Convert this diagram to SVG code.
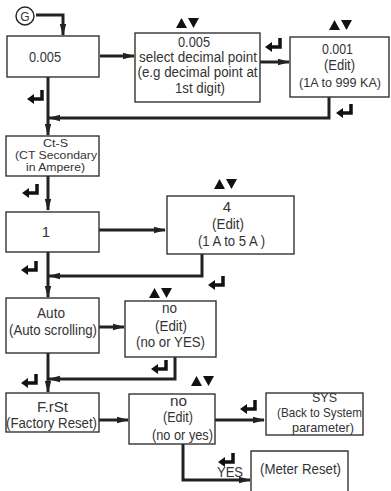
<svg xmlns="http://www.w3.org/2000/svg" width="391" height="491" viewBox="0 0 391 491">
<defs>
<style>
.box{fill:#fff;stroke:#333;stroke-width:1.4}
.t{font-family:"Liberation Sans",Arial,sans-serif;font-size:15px;fill:#333;text-anchor:middle}
.s{font-size:11px}
.m{font-size:13px}
.n{font-size:14px}
.g{font-size:12px}
.ln{fill:none;stroke:#222;stroke-width:3}
.tri{fill:#111}
</style>
<marker id="ah" markerWidth="12" markerHeight="8" refX="11" refY="4" orient="auto" markerUnits="userSpaceOnUse">
<path d="M0,0.8 L12,4 L0,7.2 Z" fill="#222"/>
</marker>
<g id="ent">
<path d="M5,-2 V7 H-4" fill="none" stroke="#111" stroke-width="3.5"/>
<path d="M-10,7 L-3,2 L-3,12 Z" fill="#111"/>
</g>
<g id="av">
<path d="M-11,5 L-5.5,-5 L0,5 Z" class="tri"/>
<path d="M1,-5 L12,-5 L6.5,5 Z" class="tri"/>
</g>
</defs>

<g id="connectors">
<path class="ln" d="M36,15 H63 V35" marker-end="url(#ah)"/>
<path class="ln" d="M100,56 H134" marker-end="url(#ah)"/>
<path class="ln" d="M260,62 H289" marker-end="url(#ah)"/>
<path class="ln" d="M329,97 V118 H49" marker-end="url(#ah)"/>
<path class="ln" d="M48,77 V135" marker-end="url(#ah)"/>
<path class="ln" d="M48,176 V210" marker-end="url(#ah)"/>
<path class="ln" d="M99,230 H165" marker-end="url(#ah)"/>
<path class="ln" d="M202,254 V276 H49" marker-end="url(#ah)"/>
<path class="ln" d="M48,252 V297" marker-end="url(#ah)"/>
<path class="ln" d="M99,327 H124" marker-end="url(#ah)"/>
<path class="ln" d="M175,357 V379 H49" marker-end="url(#ah)"/>
<path class="ln" d="M48,353 V392" marker-end="url(#ah)"/>
<path class="ln" d="M99,420 H128" marker-end="url(#ah)"/>
<path class="ln" d="M215,420 H264" marker-end="url(#ah)"/>
<path class="ln" d="M183,444 V480 H250" marker-end="url(#ah)"/>
<use href="#ent" x="37" y="92"/>
<use href="#ent" x="275" y="40"/>
<use href="#ent" x="346" y="106"/>
<use href="#ent" x="32" y="186"/>
<use href="#ent" x="31" y="263"/>
<use href="#ent" x="218" y="278"/>
<use href="#ent" x="161" y="362"/>
<use href="#ent" x="31" y="376"/>
<use href="#ent" x="250" y="402"/>
<use href="#ent" x="228" y="455"/>
<use href="#av" x="187" y="23"/>
<use href="#av" x="340" y="25"/>
<use href="#av" x="225" y="184"/>
<use href="#av" x="160" y="293"/>
<use href="#av" x="202" y="381"/>
</g>

<g id="g">
<circle cx="25" cy="16" r="9" fill="#fff" stroke="#222" stroke-width="1.4"/>
<text class="t g" x="25" y="20.5">G</text>
</g>

<g id="n1">
<rect class="box" x="7" y="36" width="92" height="41"/>
<text class="t" x="45" y="62" textLength="32" lengthAdjust="spacingAndGlyphs">0.005</text>
</g>

<g id="n2">
<rect class="box" x="135" y="33" width="125" height="69"/>
<text class="t n" x="194" y="47" textLength="32" lengthAdjust="spacingAndGlyphs">0.005</text>
<text class="t n" x="198" y="62" textLength="118" lengthAdjust="spacingAndGlyphs">select decimal point</text>
<text class="t n" x="197.5" y="77" textLength="120" lengthAdjust="spacingAndGlyphs">(e.g decimal point at</text>
<text class="t n" x="200" y="93" textLength="50" lengthAdjust="spacingAndGlyphs">1st digit)</text>
</g>

<g id="n3">
<rect class="box" x="290" y="37" width="99" height="60"/>
<text class="t" x="337.5" y="54" textLength="31" lengthAdjust="spacingAndGlyphs">0.001</text>
<text class="t" x="339.5" y="70" textLength="31" lengthAdjust="spacingAndGlyphs">(Edit)</text>
<text class="t m" x="340" y="87" textLength="82" lengthAdjust="spacingAndGlyphs">(1A to 999 KA)</text>
</g>

<g id="ct">
<rect class="box" x="6" y="136" width="93" height="40"/>
<text class="t s" x="55.5" y="147" textLength="25" lengthAdjust="spacingAndGlyphs">Ct-S</text>
<text class="t s" x="56" y="159" textLength="82" lengthAdjust="spacingAndGlyphs">(CT Secondary</text>
<text class="t s" x="55.5" y="171" textLength="59" lengthAdjust="spacingAndGlyphs">in Ampere)</text>
</g>

<g id="n1a">
<rect class="box" x="6" y="212" width="93" height="40"/>
<text class="t" x="46" y="237">1</text>
</g>

<g id="n4">
<rect class="box" x="167" y="196" width="127" height="58"/>
<text class="t" x="227" y="212">4</text>
<text class="t" x="228" y="229" textLength="32" lengthAdjust="spacingAndGlyphs">(Edit)</text>
<text class="t" x="231.5" y="246" textLength="67" lengthAdjust="spacingAndGlyphs">(1 A to 5 A )</text>
</g>

<g id="auto">
<rect class="box" x="6" y="298" width="93" height="55"/>
<text class="t" x="51" y="318" textLength="28" lengthAdjust="spacingAndGlyphs">Auto</text>
<text class="t" x="53" y="335" textLength="88" lengthAdjust="spacingAndGlyphs">(Auto scrolling)</text>
</g>

<g id="no1">
<rect class="box" x="125" y="301" width="91" height="56"/>
<text class="t" x="169.5" y="313" textLength="15" lengthAdjust="spacingAndGlyphs">no</text>
<text class="t" x="171" y="331" textLength="32" lengthAdjust="spacingAndGlyphs">(Edit)</text>
<text class="t" x="170.5" y="347" textLength="69" lengthAdjust="spacingAndGlyphs">(no or YES)</text>
</g>

<g id="frst">
<rect class="box" x="6" y="393" width="93" height="39"/>
<text class="t" x="52.5" y="412" textLength="31" lengthAdjust="spacingAndGlyphs">F.rSt</text>
<text class="t" x="51.5" y="428" textLength="91" lengthAdjust="spacingAndGlyphs">(Factory Reset)</text>
</g>

<g id="no2">
<rect class="box" x="129" y="394" width="86" height="50"/>
<text class="t" x="178.5" y="406" textLength="17" lengthAdjust="spacingAndGlyphs">no</text>
<text class="t" x="178" y="422" textLength="30" lengthAdjust="spacingAndGlyphs">(Edit)</text>
<text class="t" x="182.5" y="440" textLength="61" lengthAdjust="spacingAndGlyphs">(no or yes)</text>
</g>

<g id="sys">
<rect class="box" x="266" y="393" width="97" height="42"/>
<text class="t m" x="324.5" y="402" textLength="25" lengthAdjust="spacingAndGlyphs">SYS</text>
<text class="t m" x="319.5" y="417" textLength="85" lengthAdjust="spacingAndGlyphs">(Back to System</text>
<text class="t m" x="323" y="432" textLength="62" lengthAdjust="spacingAndGlyphs">parameter)</text>
</g>

<g id="reset">
<path class="box" d="M251,492 V451 H348 V492"/>
<text class="t" x="300.5" y="474" textLength="81" lengthAdjust="spacingAndGlyphs">(Meter Reset)</text>
</g>

<text class="t" x="230" y="477" textLength="26" lengthAdjust="spacingAndGlyphs">YES</text>
</svg>
